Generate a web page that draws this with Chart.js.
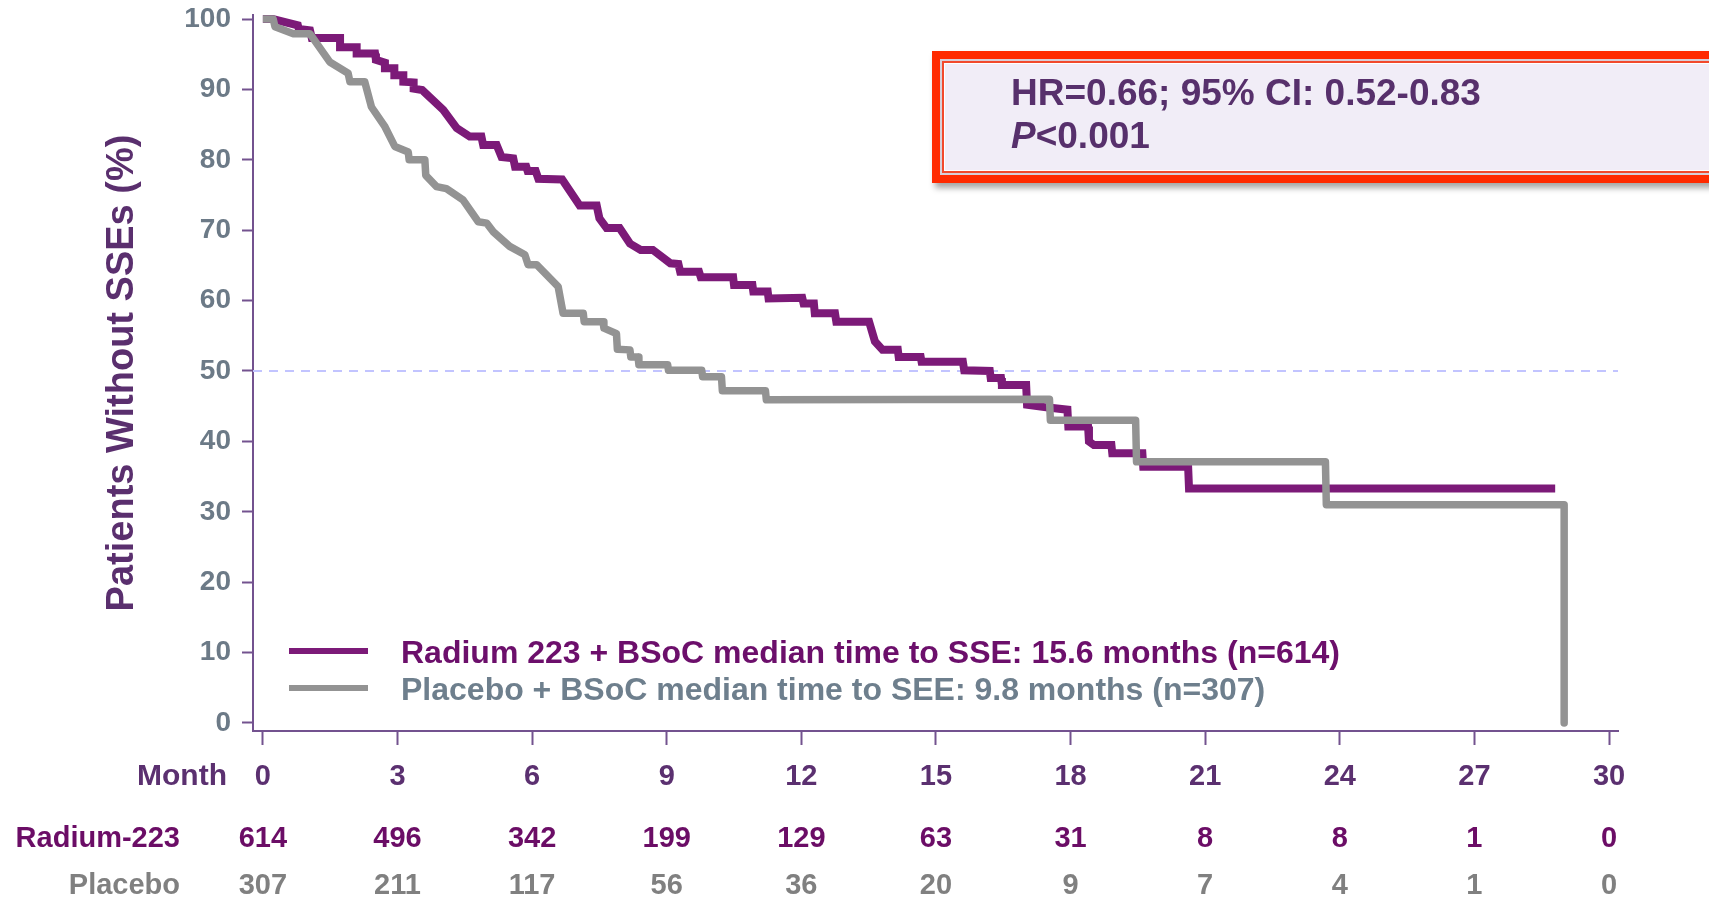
<!DOCTYPE html>
<html lang="en">
<head>
  <meta charset="UTF-8" />
  <title>Time to First SSE - Radium 223 vs Placebo</title>
  <script src="https://cdn.jsdelivr.net/npm/chart.js@4.4.1/dist/chart.umd.min.js"></script>
  <style>
    html, body { margin: 0; padding: 0; background: #fff; }
    #wrap { position: relative; width: 1709px; height: 898px; overflow: hidden; font-family: 'Liberation Sans', Arial, sans-serif; }
    #hrBox {
      position: absolute; left: 932px; top: 51px; width: 800px; height: 132px;
      box-sizing: border-box; border: 8px solid #ff2a00; background: #f1edf7;
      box-shadow: 3px 5px 6px rgba(0, 0, 0, 0.35);
    }
    #hrBox .inner {
      position: absolute; left: 2px; top: 2px; right: 2px; bottom: 2px;
      border: 2px solid #f2492c; box-shadow: inset 0 0 0 1px #fff, 0 0 0 2px #d6cfd8;
    }
    #hrBox .txt {
      position: absolute; left: 71px; top: 12px; font-weight: bold; font-size: 37px;
      line-height: 43px; color: #57306c; white-space: nowrap;
    }
  </style>
</head>
<body>
  <div id="wrap">
    <canvas id="kmChart" width="1709" height="898"></canvas>
    <div id="hrBox">
      <div class="inner"></div>
      <div class="txt">HR=0.66; 95% CI: 0.52-0.83<br><i>P</i>&lt;0.001</div>
    </div>
  </div>

  <script>
    // Kaplan-Meier curves (month, % without SSE)
    const radiumMonths = [0, 0.22, 0.78, 0.8, 1.05, 1.09, 1.72, 1.72, 2.09, 2.09, 2.5, 2.52, 2.72, 2.72, 2.93, 2.93, 3.13, 3.13, 3.36, 3.36, 3.55,
      4.02, 4.32, 4.61, 4.87, 4.91, 5.21, 5.32, 5.58, 5.62, 5.87, 5.9, 6.08, 6.14, 6.67, 7.06, 7.44, 7.5, 7.66, 7.95, 8.18, 8.42, 8.69,
      9.08, 9.26, 9.3, 9.72, 9.76, 10.48, 10.5, 10.91, 10.93, 11.25, 11.27, 12.02, 12.05, 12.28, 12.3, 12.75, 12.78, 13.51, 13.64, 13.81,
      14.15, 14.17, 14.66, 14.68, 15.6, 15.63, 16.2, 16.22, 16.45, 16.47, 17.01, 17.03, 17.5, 17.93, 17.95, 18.39, 18.41, 18.52, 18.91,
      18.93, 19.6, 19.62, 20.62, 20.64, 28.8];
    const radiumPct = [100, 100, 99.1, 98.6, 98.4, 97.3, 97.3, 96.0, 96.0, 95.1, 95.1, 94.2, 93.8, 93.0, 93.0, 92.0, 92.0, 91.1, 91.0, 90.1, 89.9,
      87.1, 84.5, 83.3, 83.3, 82.1, 82.1, 80.4, 80.2, 79.0, 79.0, 78.4, 78.4, 77.3, 77.2, 73.5, 73.5, 71.7, 70.3, 70.3, 68.1, 67.2, 67.2,
      65.3, 65.2, 64.1, 64.1, 63.3, 63.3, 62.2, 62.2, 61.3, 61.3, 60.3, 60.4, 59.6, 59.6, 58.2, 58.2, 57.0, 57.0, 54.2, 53.0,
      53.0, 52.0, 52.0, 51.3, 51.3, 50.1, 50.0, 49.0, 49.0, 48.0, 48.0, 45.2, 44.8, 44.5, 42.1, 42.1, 40.0, 39.5, 39.5,
      38.3, 38.3, 36.4, 36.4, 33.3, 33.3];

    const placeboMonths = [0, 0.23, 0.27, 0.68, 1.05, 1.49, 1.9, 1.94, 2.27, 2.42, 2.72, 2.94, 3.24, 3.26, 3.61, 3.63, 3.87, 4.09, 4.46, 4.8,
      4.99, 5.13, 5.5, 5.84, 5.91, 6.1, 6.58, 6.69, 7.14, 7.16, 7.58, 7.6, 7.88, 7.9, 8.18, 8.2, 8.36, 8.38, 9.02, 9.04, 9.78, 9.8,
      10.22, 10.24, 11.2, 11.22, 17.53, 17.55, 19.45, 19.47, 23.68, 23.7, 29.0, 29.0];
    const placeboPct = [100, 100, 98.9, 97.9, 97.9, 93.9, 92.3, 91.1, 91.1, 87.5, 84.7, 81.9, 81.1, 80.0, 80.0, 77.8, 76.2, 75.9, 74.3, 71.2,
      71.0, 69.8, 67.7, 66.5, 65.1, 65.1, 62.0, 58.2, 58.2, 57.0, 57.0, 56.1, 55.3, 53.1, 53.0, 52.0, 52.0, 50.9, 50.9, 50.1, 50.1, 49.2,
      49.2, 47.2, 47.2, 45.9, 46.0, 43.0, 43.0, 37.1, 37.1, 31.0, 31.0, 0];

    const monthTicks = [0, 3, 6, 9, 12, 15, 18, 21, 24, 27, 30];
    const pctTicks = [0, 10, 20, 30, 40, 50, 60, 70, 80, 90, 100];
    const radiumAtRisk = [614, 496, 342, 199, 129, 63, 31, 8, 8, 1, 0];
    const placeboAtRisk = [307, 211, 117, 56, 36, 20, 9, 7, 4, 1, 0];
    const medianLine = 50;

    const legendLabels = [
      'Radium 223 + BSoC median time to SSE: 15.6 months (n=614)',
      'Placebo + BSoC median time to SEE: 9.8 months (n=307)'
    ];

    const FONT = "'Liberation Sans', Arial, sans-serif";
    const PURPLE = '#7c1a78';
    const GREY = '#939393';
    const AXIS = '#73528f';

    const toPoints = (xs, ys) => xs.map((m, i) => ({ x: m, y: ys[i] }));

    const overlay = {
      id: 'overlay',
      beforeDatasetsDraw(chart) {
        const { ctx, chartArea, scales: { y } } = chart;
        const yy = y.getPixelForValue(medianLine);
        ctx.save();
        ctx.strokeStyle = '#c2c4ff';
        ctx.lineWidth = 2;
        ctx.setLineDash([9, 7]);
        ctx.beginPath();
        ctx.moveTo(chartArea.left, yy);
        ctx.lineTo(chartArea.right, yy);
        ctx.stroke();
        ctx.restore();
      },
      afterDraw(chart) {
        const { ctx, scales: { x } } = chart;
        ctx.save();

        // legend inside the plot
        const rows = [
          { y: 651, color: PURPLE, text: '#6c0f6b' },
          { y: 688, color: GREY, text: '#6e7f8d' }
        ];
        rows.forEach((r, i) => {
          ctx.strokeStyle = r.color;
          ctx.lineWidth = 6;
          ctx.beginPath();
          ctx.moveTo(289, r.y);
          ctx.lineTo(368, r.y);
          ctx.stroke();
          ctx.font = 'bold 32px ' + FONT;
          ctx.fillStyle = r.text;
          ctx.textAlign = 'left';
          ctx.textBaseline = 'middle';
          ctx.fillText(legendLabels[i], 401, r.y + 3);
        });

        // numbers at risk
        ctx.textBaseline = 'middle';
        ctx.textAlign = 'right';
        ctx.font = 'bold 30px ' + FONT;
        ctx.fillStyle = '#5b3070';
        ctx.fillText('Month', 227, 777);

        ctx.font = 'bold 29px ' + FONT;
        ctx.fillStyle = '#6b0d66';
        ctx.fillText('Radium-223', 180, 839);
        ctx.fillStyle = '#808080';
        ctx.fillText('Placebo', 180, 886);

        ctx.textAlign = 'center';
        monthTicks.forEach((m, i) => {
          const px = x.getPixelForValue(m);
          ctx.fillStyle = '#6b0d66';
          ctx.fillText(String(radiumAtRisk[i]), px, 839);
          ctx.fillStyle = '#808080';
          ctx.fillText(String(placeboAtRisk[i]), px, 886);
        });
        ctx.restore();
      }
    };

    new Chart(document.getElementById('kmChart'), {
      type: 'line',
      data: {
        datasets: [
          {
            label: 'Radium 223 + BSoC',
            data: toPoints(radiumMonths, radiumPct),
            borderColor: PURPLE,
            borderWidth: 8,
            borderJoinStyle: 'miter',
            pointRadius: 0,
            tension: 0,
            fill: false,
            order: 1
          },
          {
            label: 'Placebo + BSoC',
            data: toPoints(placeboMonths, placeboPct),
            borderColor: GREY,
            borderWidth: 7.5,
            borderJoinStyle: 'round',
            pointRadius: 0,
            tension: 0,
            fill: false,
            order: 0
          }
        ]
      },
      options: {
        responsive: false,
        devicePixelRatio: 1,
        animation: false,
        layout: { padding: { top: 15, right: 91, bottom: 0, left: 0 } },
        plugins: { legend: { display: false }, tooltip: { enabled: false } },
        scales: {
          x: {
            type: 'linear',
            min: -0.22,
            max: 30.2,
            afterBuildTicks: s => { s.ticks = monthTicks.map(v => ({ value: v })); },
            afterFit: s => { s.height = 167; s.paddingLeft = 0; s.paddingRight = 0; },
            grid: { drawOnChartArea: false, drawTicks: true, tickLength: 14, tickWidth: 2, tickColor: AXIS },
            border: { display: true, color: AXIS, width: 2 },
            ticks: {
              padding: 15,
              maxRotation: 0,
              autoSkip: false,
              color: '#5b3070',
              font: { family: FONT, size: 29, weight: 'bold' }
            }
          },
          y: {
            type: 'linear',
            min: -1.14,
            max: 100.57,
            afterBuildTicks: s => { s.ticks = pctTicks.map(v => ({ value: v })); },
            afterFit: s => { s.width = 253; s.paddingTop = 0; s.paddingBottom = 0; },
            grid: { drawOnChartArea: false, drawTicks: true, tickLength: 11, tickWidth: 2, tickColor: AXIS },
            border: { display: true, color: AXIS, width: 2 },
            ticks: {
              padding: 11,
              color: '#6c7a87',
              font: { family: FONT, size: 28, weight: 'bold' }
            },
            title: {
              display: true,
              text: 'Patients Without SSEs (%)',
              color: '#5a2f6e',
              font: { family: FONT, size: 38, weight: 'bold' },
              padding: { top: 100, bottom: 0 }
            }
          }
        }
      },
      plugins: [overlay]
    });
  </script>
</body>
</html>
